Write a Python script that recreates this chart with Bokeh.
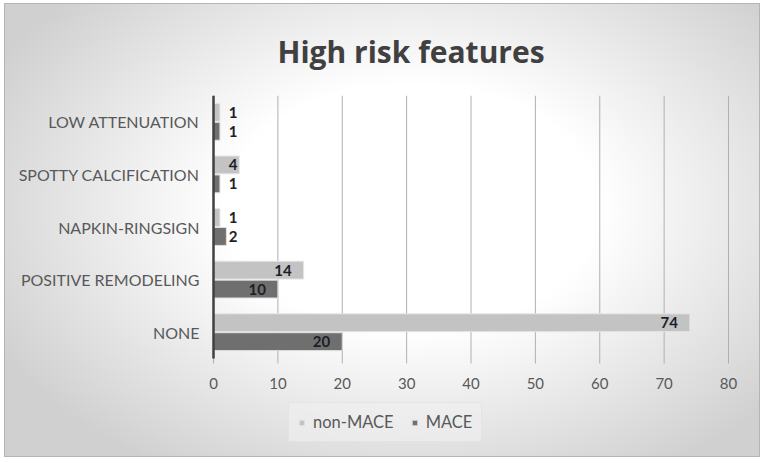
from bokeh.plotting import figure
from bokeh.models import (ColumnDataSource, Range1d, Legend, LegendItem, Title,
                          FixedTicker)
from bokeh.core.properties import value
from bokeh.embed import file_html
from bokeh.resources import INLINE

categories = ["LOW ATTENUATION", "SPOTTY CALCIFICATION", "NAPKIN-RINGSIGN",
              "POSITIVE REMODELING", "NONE"]
non_mace = [1, 4, 1, 14, 74]
mace = [1, 1, 2, 10, 20]
x_ticks = [0, 10, 20, 30, 40, 50, 60, 70, 80]

W, H = 754, 452
PAD = 14                 # extra frame pixels on each side so edge tick labels show
ML, MR, MT, MB = 208 - PAD, 31 - PAD, 91, 0
FW, FH = W - ML - MR, H - MT - MB
AXIS_PX = FW - 2 * PAD   # pixels for the 0..80 span
CAT_PX = 52.6            # pixels per category band
XMAX = 80
xpad = PAD * XMAX / AXIS_PX
n = len(categories)
ytop = n - 0.5
ybot = -0.5
ymin = ytop - FH / CAT_PX

ypos = [n - 1 - i for i in range(n)]
BAR_OFF, BAR_H = 0.18, 0.34

def label_pos(vals):
    xs, offs = [], []
    for v in vals:
        px = v * AXIS_PX / XMAX
        if px - 12 > 24:
            xs.append(v); offs.append(-12)
        else:
            xs.append(0); offs.append(24)
    return xs, offs

nx, no = label_pos(non_mace)
mx, mo = label_pos(mace)

src = ColumnDataSource(dict(
    y_non=[y + BAR_OFF for y in ypos], y_mace=[y - BAR_OFF for y in ypos],
    non=non_mace, mace=mace,
    nl=[str(v) for v in non_mace], ml=[str(v) for v in mace],
    nx=nx, no=no, mx=mx, mo=mo))

p = figure(width=W, height=H, output_backend="svg", toolbar_location=None,
           x_range=Range1d(-xpad, XMAX + xpad), y_range=Range1d(ymin, ytop),
           x_axis_location=None,
           min_border_left=ML, min_border_right=MR, min_border_top=MT, min_border_bottom=MB)
p.margin = (4, 0, 0, 5)
p.styles = {"background": "radial-gradient(ellipse 62% 68% at 54% 45%, #ffffff 40%, #d0d0d0 100%)",
            "outline": "1px solid #b4b4b4"}
p.background_fill_color = None
p.border_fill_color = None
p.outline_line_color = None
p.xgrid.grid_line_color = None
p.ygrid.grid_line_color = None

# vertical grid lines + tick marks below the category area
tick_len = 5 / CAT_PX
p.segment(x0=x_ticks, x1=x_ticks, y0=[ybot - tick_len] * len(x_ticks), y1=[ytop] * len(x_ticks),
          line_color="#b0b0b0", line_width=1)

r1 = p.hbar(y="y_non", right="non", left=0, height=BAR_H,
            source=src, fill_color="#c3c3c3", line_color="#e6e6e6", line_width=1)
r2 = p.hbar(y="y_mace", right="mace", left=0, height=BAR_H,
            source=src, fill_color="#6f6f6f", line_color="#e0e0e0", line_width=1)

# category axis line at x = 0
p.segment(x0=[0], x1=[0], y0=[ybot], y1=[ytop], line_color="#404040", line_width=2.5)

for ycol, xcol, ocol, tcol in [("y_non", "nx", "no", "nl"), ("y_mace", "mx", "mo", "ml")]:
    p.text(x=xcol, y=ycol, text=tcol, x_offset=ocol,
           source=src, text_align="right", text_baseline="middle",
           text_font_size="15px", text_font_style="bold", text_color="#1e1e28",
           text_font=value("Lato"))

# x tick labels
p.text(x=x_ticks, y=[ybot] * len(x_ticks), text=[str(t) for t in x_ticks], y_offset=25,
       text_align="center", text_baseline="middle", text_font_size="15px",
       text_color="#595959", text_font=value("Lato"))

p.title = Title(text="High risk features", align="left", offset=64 + PAD,
                text_font="Open Sans", text_font_size="30px", text_font_style="bold",
                text_color="#404040", standoff=48)

p.yaxis.ticker = FixedTicker(ticks=ypos)
p.yaxis.major_label_overrides = {y: c for y, c in zip(ypos, categories)}
p.yaxis.axis_line_color = None
p.yaxis.major_tick_line_color = None
p.yaxis.minor_tick_line_color = None
p.yaxis.major_tick_out = 0
p.yaxis.major_tick_in = 0
p.yaxis.major_label_text_font = "Lato"
p.yaxis.major_label_text_font_size = "16px"
p.yaxis.major_label_text_color = "#595959"
p.yaxis.major_label_standoff = 0

legend = Legend(items=[LegendItem(label="non-MACE", renderers=[r1]),
                       LegendItem(label="MACE", renderers=[r2])],
                orientation="horizontal", location=(75 + PAD, 14),
                glyph_width=7, glyph_height=7, label_text_font="Lato",
                label_text_font_size="16.5px", label_text_color="#595959",
                border_line_color="#dcdcdc", background_fill_color="#f0f0f0",
                background_fill_alpha=0.6, padding=9, spacing=17, margin=0,
                label_standoff=8, label_height=17)
p.add_layout(legend, "center")

open("out.html", "w").write(file_html(p, INLINE))
